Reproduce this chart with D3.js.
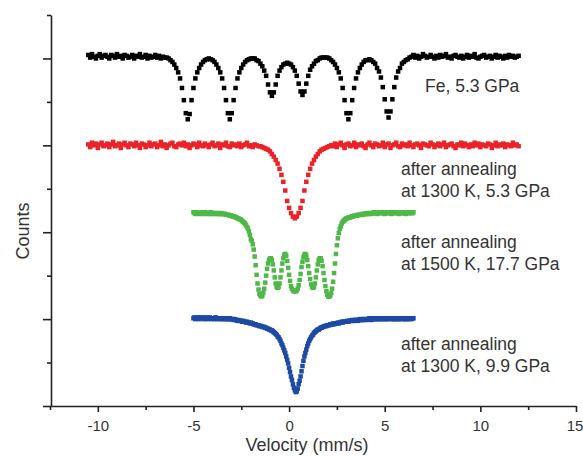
<!DOCTYPE html>
<html><head><meta charset="utf-8">
<script src="https://cdn.jsdelivr.net/npm/d3@7/dist/d3.min.js"></script>
<style>body{margin:0;background:#fff}svg{display:block}</style>
</head><body><svg id="c" width="583" height="457"></svg>
<script>
// ---------- data ----------
const xMajorTicks = [-10, -5, 0, 5, 10, 15];
const xMinorTicks = [-12.5, -7.5, -2.5, 2.5, 7.5, 12.5];
const yMajorTicks = [0, 100, 200, 300, 400];
const yMinorTicks = [50, 150, 250, 350, 450];
const xTitle = "Velocity (mm/s)";
const yTitle = "Counts";

const seriesNames = ["Fe, 5.3 GPa", "1300 K, 5.3 GPa", "1500 K, 17.7 GPa", "1300 K, 9.9 GPa"];
const seriesLabels = [
  ["Fe, 5.3 GPa"],
  ["after annealing", "at 1300 K, 5.3 GPa"],
  ["after annealing", "at 1500 K, 17.7 GPa"],
  ["after annealing", "at 1300 K, 9.9 GPa"]
];
// velocity grid: first channel and channel width (mm/s)
const seriesStart = [-10.5, -10.5, -5.0, -5.0];
const seriesStep = [0.1, 0.1, 0.05, 0.05];

// counts (offset, arbitrary units)
const feCounts = [
404,401,405,402,400,403,405,401,403,404,
402,400,404,403,401,405,402,403,400,404,
403,401,402,404,400,403,402,405,401,402,
404,400,403,401,402,404,401,403,400,402,
401,
401,400,398,396,393,389,384,377,366,352,337,330,
336,352,366,377,384,389,393,396,398,399,400,399,398,396,393,389,384,377,366,352,337,330,
337,352,366,377,384,389,393,396,398,399,400,400,400,398,397,394,391,386,380,370,361,357,
361,370,380,386,390,393,394,395,394,393,390,386,380,371,362,358,
362,371,380,387,391,394,397,398,400,401,401,401,401,400,398,396,393,389,384,377,366,352,337,330,
337,352,366,377,384,389,393,396,398,398,399,398,396,394,389,385,378,367,353,339,332,
339,353,367,378,385,389,394,396,398,399,401,
402,404,401,403,400,402,405,403,401,402,
404,402,400,403,401,404,402,403,405,401,
402,400,403,404,402,401,403,400,402,404,
401,403,402,405,401,400,402,403,404,401,
402,403,400,402,404,401,403,402,400,403,
401,404,402,403,401,402,403
];
const anneal1300Counts = [
301,298,303,300,302,297,301,303,299,300,
302,298,301,304,299,300,302,297,301,303,
300,298,302,301,299,303,300,297,302,301,
298,300,303,299,301,302,298,300,304,299,
301,297,300,302,303,299,298,301,302,300,
303,299,301,297,300,302,301,298,303,300,
299,302,300,298,301,303,299,300,302,297,
301,300,303,299,298,302,300,301,299,302,
298,300,301,303,299,300,298,301,300,299,
299,298,297,296,295,293,290,287,283,279,273,266,258,248,236,228,222,218,216,
218,222,228,236,248,258,266,273,279,283,287,290,293,295,296,297,298,299,
300,299,302,298,301,303,300,297,301,302,
299,300,303,298,301,300,302,299,297,301,
303,300,298,302,301,299,300,303,298,301,
302,297,300,301,303,299,298,302,300,301,
299,303,300,298,301,302,300,297,302,301,
300,299,303,301,298,300,302,299,301,303,
298,300,301,302,299,297,301,300,303,299,
302,300,298,301,299,303,300,302,298,301,
300,299,302,301,297,300,303,299,301,300,
302,298,301,300,299,303,300,301,299
];
const anneal1500Counts = [
223,222,221,222,223,222,221,222,222,223,
221,222,223,222,221,222,222,221,223,222,
221,222,222,221,222,221,222,221,221,222,
221,
221,221,221,220,220,220,220,219,219,219,
218,218,218,217,217,216,216,215,215,214,
213,212,211,210,208,206,204,201,197,192,
190,186,180,172,162,151,141,134,129,127,
126,127,130,135,142,150,158,164,168,170,
170,168,163,156,148,141,137,136,137,141,
148,156,164,170,174,175,173,167,159,151,
144,138,135,133,132,132,132,133,135,139,
145,152,160,166,171,174,175,173,168,161,
153,146,140,137,136,137,141,148,156,163,
168,170,170,167,161,153,145,138,132,128,
126,126,127,130,135,143,153,164,175,185,
193,199,204,207,210,212,213,214,215,216,
216,217,217,217,218,218,218,219,219,219,
219,220,220,220,220,221,220,221,221,221,
222,221,221,222,222,221,222,222,223,222,
222,221,222,223,222,222,223,222,222,221,
222,223,222,222,223,222,221,222,223,222,
222,223,222,222,221,222,223,222,223,222,
222,221,222,223,222,222,223,222,222,223
];
const anneal1300bCounts = [
101,102,100,101,102,101,100,102,101,101,
102,100,101,101,102,100,101,102,101,100,
101,101,100,102,101,100,101,101,100,101,
100,101,101,100,100,101,100,100,101,100,
100,100,99,100,99,99,98,99,98,98,
98,97,98,97,97,96,97,96,96,95,
96,95,95,94,94,94,93,93,93,92,
92,92,91,91,91,90,90,89,89,88,
88,87,87,86,85,84,83,82,80,79,
77,75,72,70,67,64,61,57,53,49,
44,39,34,30,25,21,18,16,17,20,
25,29,34,40,46,52,57,61,65,69,
72,75,77,79,81,82,84,85,86,87,
88,88,89,90,90,91,91,92,92,92,
93,93,93,94,94,94,95,94,95,95,
95,96,95,96,96,97,96,97,97,97,
97,98,97,98,98,98,99,98,98,99,
99,99,98,99,100,99,99,100,99,100,
100,99,100,100,101,100,99,100,101,100,
100,101,100,100,101,100,101,100,100,101,
101,100,100,101,100,101,101,100,101,100,
100,101,100,101,100,100,101,101,100,101,
100,101,100,100,101,101,100,101,100,101,
101
];
const seriesCounts = [feCounts, anneal1300Counts, anneal1500Counts, anneal1300bCounts];
const seriesColors = ["#000000", "#ec2227", "#4fb848", "#1d4aa5"];

// ---------- drawing ----------
const svg = d3.select("#c");
const x = d3.scaleLinear().domain([-12.5, 15]).range([50, 576]);
const y = d3.scaleLinear().domain([0, 450]).range([406, 15]);
const FONT = "'Liberation Sans', Arial, Helvetica, sans-serif";
const AX = "#222";
const MS = 4.5;

// series points
seriesCounts.forEach((arr, s) => {
  const pts = arr.map((c, i) => ({v: seriesStart[s] + i * seriesStep[s], c}));
  svg.append("g").attr("class", "series").attr("data-name", seriesNames[s])
    .selectAll("rect").data(pts).join("rect")
    .attr("x", d => x(d.v) - MS / 2).attr("y", d => y(d.c) - MS / 2)
    .attr("width", MS).attr("height", MS)
    .attr("fill", seriesColors[s]);
});

// axes
function styleAxis(g) {
  g.selectAll("path.domain").attr("stroke", AX).attr("stroke-width", 1.6);
  g.selectAll(".tick line").attr("stroke", AX).attr("stroke-width", 1.6);
}
const xMinor = svg.append("g").attr("transform", "translate(0,406)")
  .call(d3.axisBottom(x).tickValues(xMinorTicks).tickSize(4).tickSizeOuter(0).tickFormat(""));
xMinor.select("path.domain").remove();
styleAxis(xMinor);
const xMajor = svg.append("g").attr("transform", "translate(0,406)")
  .call(d3.axisBottom(x).tickValues(xMajorTicks).tickSize(6).tickSizeOuter(0).tickPadding(8).tickFormat(d => String(d)));
styleAxis(xMajor);
xMajor.selectAll(".tick text").attr("font-family", FONT).attr("font-size", 15).attr("fill", "#333")
  .attr("dx", (d, i, n) => i === n.length - 1 ? -1.5 : 0);

const yMinor = svg.append("g").attr("transform", "translate(51,0)")
  .call(d3.axisLeft(y).tickValues(yMinorTicks).tickSize(4).tickSizeOuter(0).tickFormat(""));
yMinor.select("path.domain").remove();
styleAxis(yMinor);
const yMajor = svg.append("g").attr("transform", "translate(51,0)")
  .call(d3.axisLeft(y).tickValues(yMajorTicks).tickSize(8).tickSizeOuter(0).tickFormat(""));
styleAxis(yMajor);

// axis titles
svg.append("text").attr("x", 307).attr("y", 451).attr("text-anchor", "middle")
  .attr("font-family", FONT).attr("font-size", 18).attr("fill", "#333").text(xTitle);
svg.append("text").attr("transform", "translate(29,231) rotate(-90)").attr("text-anchor", "middle")
  .attr("font-family", FONT).attr("font-size", 18).attr("fill", "#333").text(yTitle);

// series labels
const labelPos = [[425, 92], [401, 175], [401, 248], [401, 350]];
seriesLabels.forEach((lines, s) => {
  const t = svg.append("text").attr("font-family", FONT).attr("font-size", 17.5).attr("fill", "#333");
  lines.forEach((ln, k) => {
    t.append("tspan").attr("x", labelPos[s][0]).attr("y", labelPos[s][1] + k * 22).text(ln);
  });
});
</script>
</body></html>
